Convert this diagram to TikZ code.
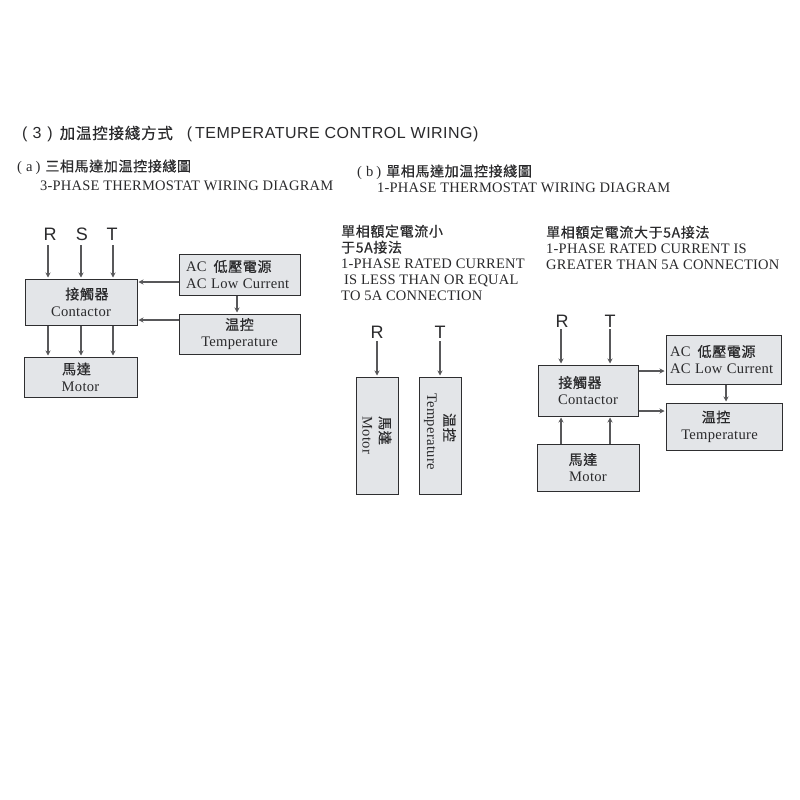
\documentclass[tikz,border=0pt]{standalone}
\usepackage{fontspec}
\setmainfont{Liberation Serif}
\setsansfont{Liberation Sans}
\newfontfamily\cjk[FakeBold=0.6]{Noto Sans CJK TC}
\usetikzlibrary{arrows.meta}
\definecolor{boxfill}{HTML}{E3E5E8}
\definecolor{edge}{HTML}{2E2E30}
\definecolor{wire}{HTML}{58585A}
\definecolor{ink}{HTML}{2A2A2C}
\newcommand{\lbl}{\fontsize{14.6}{16}\selectfont\addfontfeature{LetterSpace=2}}
\newcommand{\hd}{\fontsize{14.5}{16}\selectfont\addfontfeature{LetterSpace=1.5}}
\newcommand{\zh}[1]{{\cjk\fontsize{14}{16}\selectfont\addfontfeature{LetterSpace=4.5}#1}}
\tikzset{
  x=1pt,y=-1pt,
  box/.style={draw=edge,fill=boxfill,line width=1pt,inner sep=0pt,align=center,text=ink,font=\fontsize{13.5}{16}\selectfont},
  wirearrow/.style={draw=wire,line width=1.1pt,-{Stealth[length=5pt,width=5pt]},shorten >=1pt},
  letter/.style={font=\sffamily\fontsize{18}{18}\selectfont,text=ink,inner sep=0pt},
  plain/.style={text=ink,inner sep=0pt,anchor=west,align=left,font=\fontsize{13.5}{16}\selectfont}
}
\begin{document}
\begin{tikzpicture}
\useasboundingbox (0,0) rectangle (800,800);
\fill[white] (0,0) rectangle (800,800);
% headings
\node[plain] (title) at (22,134) {\sffamily\fontsize{16}{18}\selectfont\addfontfeature{LetterSpace=3}(\hspace{5pt}3\hspace{6pt})\hspace{7pt}{\cjk\fontsize{15.5}{18}\selectfont\addfontfeature{LetterSpace=5}加温控接綫方式}\hspace{14pt}(\hspace{3pt}TEMPERATURE CONTROL WIRING)};
\node[plain] (ahead) at (17,167) {\lbl (\hspace{4pt}a\hspace{3pt})\hspace{5pt}\zh{三相馬達加温控接綫圖}};
\node[plain] (aeng) at (40,186) {\hd 3-PHASE THERMOSTAT WIRING DIAGRAM};
\node[plain] (bhead) at (357,172) {\lbl (\hspace{4pt}b\hspace{3pt})\hspace{5pt}\zh{單相馬達加温控接綫圖}};
\node[plain] (beng) at (377,188) {\hd 1-PHASE THERMOSTAT WIRING DIAGRAM};
\node[plain,anchor=north west] (midnote) at (341,224.5) {\zh{單相額定電流小}\\ \zh{于5A接法}\\ \hd 1-PHASE RATED CURRENT\\ \hd\hspace*{3pt}IS LESS THAN OR EQUAL\\ \hd TO 5A CONNECTION};
\node[plain,anchor=north west] (rightnote) at (546,225.5) {\zh{單相額定電流大于5A接法}\\ \hd 1-PHASE RATED CURRENT IS\\ \hd GREATER THAN 5A CONNECTION};
% diagram a
\node[letter] (aR) at (50,234) {R};
\node[letter] (aS) at (82,234) {S};
\node[letter] (aT) at (112,234) {T};
\node[box,minimum width=112pt,minimum height=46pt] (acon) at (81,302) {\hspace*{12pt}\zh{接觸器}\\[1pt] \lbl Contactor};
\node[box,minimum width=113pt,minimum height=40pt] (amot) at (80.5,377) {\hspace*{-8pt}\zh{馬達}\\[1pt] \lbl Motor};
\node[box,minimum width=121pt,minimum height=41pt,align=left,text width=107pt] (aac) at (239.5,274.5) {\lbl AC\hspace{7pt}\zh{低壓電源}\\[1pt] \lbl AC Low Current};
\node[box,minimum width=121pt,minimum height=40pt] (atmp) at (239.5,334) {\zh{温控}\\[1pt] \lbl Temperature};
\coordinate (ar) at (48,245);
\coordinate (as) at (81,245);
\coordinate (at) at (113,245);
\coordinate (ay1) at (0,282);
\coordinate (ay2) at (0,320);
\coordinate (ax) at (237,0);
\draw[wirearrow] (ar) -- (ar |- acon.north);
\draw[wirearrow] (as) -- (as |- acon.north);
\draw[wirearrow] (at) -- (at |- acon.north);
\draw[wirearrow] (ar |- acon.south) -- (ar |- amot.north);
\draw[wirearrow] (as |- acon.south) -- (as |- amot.north);
\draw[wirearrow] (at |- acon.south) -- (at |- amot.north);
\draw[wirearrow] (aac.west |- ay1) -- (acon.east |- ay1);
\draw[wirearrow] (atmp.west |- ay2) -- (acon.east |- ay2);
\draw[wirearrow] (ax |- aac.south) -- (ax |- atmp.north);
% diagram b1
\node[letter] (bR) at (377,332) {R};
\node[letter] (bT) at (440,332) {T};
\node[box,rotate=-90,minimum width=117pt,minimum height=42pt] (bmot) at (377,435.5) {\hspace*{-10pt}\zh{馬達}\\[1pt] \lbl Motor};
\node[box,rotate=-90,minimum width=117pt,minimum height=42pt] (btmp) at (440,435.5) {\hspace*{-16pt}\zh{温控}\\[1pt] \hspace*{-8pt}\lbl Temperature};
\coordinate (br) at (377,341);
\coordinate (bt) at (440,341);
\draw[wirearrow] (br) -- (bmot.west);
\draw[wirearrow] (bt) -- (btmp.west);
% diagram b2
\node[letter] (cR) at (562,321) {R};
\node[letter] (cT) at (610,321) {T};
\node[box,minimum width=100pt,minimum height=51pt] (ccon) at (588,390.5) {\hspace*{-16pt}\zh{接觸器}\\[1pt] \lbl Contactor};
\node[box,minimum width=102pt,minimum height=47pt] (cmot) at (588,467.5) {\hspace*{-10pt}\zh{馬達}\\[1pt] \lbl Motor};
\node[box,minimum width=115pt,minimum height=49pt,align=left,text width=107pt] (cac) at (723.5,359.5) {\lbl AC\hspace{7pt}\zh{低壓電源}\\[1pt] \lbl AC Low Current};
\node[box,minimum width=116pt,minimum height=47pt] (ctmp) at (724,426.5) {\hspace*{-16pt}\zh{温控}\\[1pt] \hspace*{-9pt}\lbl Temperature};
\coordinate (cr) at (561,329);
\coordinate (ct) at (610,329);
\coordinate (cy1) at (0,371);
\coordinate (cy2) at (0,411);
\coordinate (cx) at (726,0);
\draw[wirearrow] (cr) -- (cr |- ccon.north);
\draw[wirearrow] (ct) -- (ct |- ccon.north);
\draw[wirearrow] (cr |- cmot.north) -- (cr |- ccon.south);
\draw[wirearrow] (ct |- cmot.north) -- (ct |- ccon.south);
\draw[wirearrow] (ccon.east |- cy1) -- (cac.west |- cy1);
\draw[wirearrow] (ccon.east |- cy2) -- (ctmp.west |- cy2);
\draw[wirearrow] (cx |- cac.south) -- (cx |- ctmp.north);
\end{tikzpicture}
\end{document}
